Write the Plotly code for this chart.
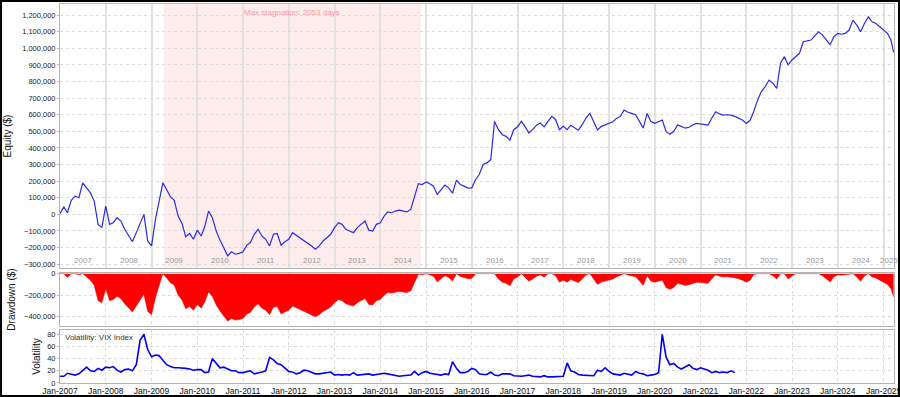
import pandas as pd
import numpy as np
import plotly.graph_objects as go
from plotly.subplots import make_subplots

# ---------------- data ----------------
# Equity in thousands of $, monthly from Jan-2007, last point = end of data (Mar-2025)
equity_k = [
    # 2007
    5, 45, 10, 85, 110, 100, 190, 160, 130, 80, -60, -80,
    # 2008
    50, -60, -50, -20, -40, -90, -130, -165, -110, -60, 0, -160,
    # 2009
    -190, -30, 80, 190, 150, 105, 85, -10, -55, -135, -115, -150,
    # 2010
    -95, -130, -75, 20, -20, -100, -155, -200, -250, -225, -240, -235,
    # 2011
    -225, -185, -170, -120, -90, -130, -150, -190, -120, -115, -185, -165,
    # 2012
    -150, -110, -125, -140, -160, -175, -190, -210, -190, -160, -140, -120,
    # 2013
    -80, -50, -60, -90, -100, -110, -80, -60, -40, -95, -100, -60,
    # 2014
    -50, -10, 15, 10, 20, 25, 20, 15, 30, 110, 185, 180,
    # 2015
    195, 185, 170, 120, 150, 176, 160, 128, 206, 180, 170, 158,
    # 2016
    160, 210, 240, 300, 310, 330, 560, 510, 480, 470, 447, 510,
    # 2017
    528, 560, 530, 490, 510, 537, 550, 527, 560, 590, 570, 510,
    # 2018
    530, 510, 537, 520, 507, 540, 580, 608, 560, 508, 530, 538,
    # 2019
    545, 558, 578, 590, 628, 615, 608, 600, 560, 519, 608, 560,
    # 2020
    548, 560, 568, 498, 483, 500, 538, 530, 519, 525, 540, 548,
    # 2021
    545, 540, 538, 580, 618, 605, 598, 600, 598, 590, 580, 568,
    # 2022
    548, 568, 620, 688, 740, 769, 809, 790, 759, 910, 950, 900,
    # 2023
    930, 950, 970, 1040, 1045, 1050, 1075, 1100, 1080, 1050, 1022, 1070,
    # 2024
    1090, 1085, 1090, 1110, 1170, 1140, 1100, 1150, 1190, 1160, 1150, 1130,
    # 2025
    1110, 1090, 1050, 975,
]
equity_dates = list(pd.date_range("2007-01-01", periods=len(equity_k) - 1, freq="MS")) + [pd.Timestamp("2025-03-22")]

# VIX index, monthly from Jan-2007 to Oct-2021
vix_values = [
    11, 11, 16, 14, 13, 15, 20, 26, 20, 19, 24, 21,   # 2007
    26, 25, 27, 21, 18, 22, 23, 20, 30, 70, 80, 55,   # 2008
    43, 46, 45, 37, 30, 27, 25, 25, 25, 24, 23, 21,   # 2009
    22, 22, 17, 18, 40, 32, 25, 26, 23, 20, 20, 17,   # 2010
    17, 18, 20, 15, 16, 18, 20, 42, 38, 32, 30, 24,   # 2011
    19, 18, 15, 17, 21, 20, 17, 15, 15, 16, 16, 18,   # 2012
    13, 14, 13, 14, 13, 17, 13, 14, 15, 15, 13, 14,   # 2013
    14, 16, 15, 14, 12, 11, 12, 13, 13, 19, 13, 17,   # 2014
    19, 16, 15, 14, 13, 15, 14, 35, 24, 17, 17, 19,   # 2015
    24, 22, 15, 14, 14, 18, 13, 12, 15, 15, 15, 12,   # 2016
    11, 11, 12, 13, 11, 10, 10, 12, 10, 10, 10, 10,   # 2017
    11, 33, 20, 18, 14, 13, 13, 12, 12, 21, 19, 25,   # 2018
    19, 15, 14, 13, 16, 15, 13, 19, 16, 15, 12, 13,   # 2019
    14, 17, 80, 42, 30, 32, 26, 23, 27, 30, 24, 22,   # 2020
    25, 23, 21, 17, 19, 17, 18, 17, 20, 17,           # 2021
]
vix_dates = pd.date_range("2007-01-01", periods=len(vix_values), freq="MS")

stagnation_start = "2009-04-08"
stagnation_end = "2014-11-21"
stagnation_days = 2053
year_labels = list(range(2007, 2026))

equity_ticks = list(range(-300000, 1200001, 100000))
drawdown_ticks = [0, -200000, -400000]
vol_ticks = [0, 20, 40, 60, 80]

# ---------------- derived ----------------
equity = np.array(equity_k, dtype=float) * 1000.0
drawdown = equity - np.maximum.accumulate(equity)

# ---------------- figure ----------------
FONT = "Liberation Sans, Arial, sans-serif"
fig = make_subplots(rows=3, cols=1, shared_xaxes=False)

fig.add_trace(go.Scatter(x=equity_dates, y=equity, mode="lines",
                         line=dict(color="#2b2bf0", width=1.2)), row=1, col=1)
fig.add_trace(go.Scatter(x=equity_dates, y=drawdown, mode="lines", fill="tozeroy",
                         fillcolor="#ff0000", line=dict(color="#ff0000", width=0.5)), row=2, col=1)
fig.add_trace(go.Scatter(x=vix_dates, y=vix_values, mode="lines",
                         line=dict(color="#0000ff", width=1.6)), row=3, col=1)

xrange = ["2007-01-01", "2025-03-25"]
common_x = dict(range=xrange, type="date", showline=True, linecolor="#b4b4b4", mirror=True,
                dtick="M12", tick0="2007-01-01", zeroline=False, automargin=False)

common_y = dict(showgrid=True, gridcolor="#dcdcdc", griddash="dot", zeroline=False,
                showline=True, linecolor="#b4b4b4", mirror=True, ticks="outside",
                ticklen=2, tickcolor="#b4b4b4", automargin=False)

fig.update_layout(
    width=900, height=397,
    margin=dict(l=60, r=6, t=4, b=14),
    paper_bgcolor="white", plot_bgcolor="white",
    showlegend=False,
    font=dict(family=FONT, size=7.5, color="#222"),
    xaxis=dict(domain=[0, 1], anchor="y", showticklabels=False, showgrid=True,
               gridcolor="#e2e2e2", gridwidth=1.5, ticks="", **common_x),
    xaxis2=dict(domain=[0, 1], anchor="y2", showticklabels=False, showgrid=True,
                gridcolor="#dcdcdc", griddash="dot", ticks="", matches="x", **common_x),
    xaxis3=dict(domain=[0, 1], anchor="y3", showticklabels=True, showgrid=True,
                gridcolor="#dcdcdc", griddash="dot", ticks="", matches="x",
                tickformat="%b-%Y", ticklabeloverflow="allow",
                tickfont=dict(size=8.5, color="#111"), **common_x),
    yaxis=dict(domain=[0.3034, 1.0], anchor="x", range=[-323000, 1267000],
               tickvals=equity_ticks, tickformat=",",
               title=dict(text="Equity ($)", font=dict(size=10, color="#111"), standoff=8),
               **common_y),
    yaxis2=dict(domain=[0.1504, 0.2902], anchor="x2", range=[-485000, 6000],
                tickvals=drawdown_ticks, tickformat=",",
                title=dict(text="Drawdown ($)", font=dict(size=10, color="#111"), standoff=6),
                **common_y),
    yaxis3=dict(domain=[0.0, 0.1398], anchor="x3", range=[0, 87],
                tickvals=vol_ticks,
                title=dict(text="Volatility", font=dict(size=10, color="#111"), standoff=4),
                **common_y),
)

# stagnation shading
fig.add_shape(type="rect", xref="x", yref="y domain", x0=stagnation_start, x1=stagnation_end,
              y0=0, y1=1, fillcolor="#ffecec", line=dict(width=0), layer="below")
mid = pd.Timestamp(stagnation_start) + (pd.Timestamp(stagnation_end) - pd.Timestamp(stagnation_start)) / 2
fig.add_annotation(x=mid, y=1, xref="x", yref="y domain", yanchor="top", yshift=-2,
                   text=f"Max stagnation: {stagnation_days} days", showarrow=False,
                   font=dict(size=8, color="#ff9a9a"))

# year labels inside top panel (last one sits at the clipped right edge)
for yr in year_labels:
    pos = pd.Timestamp(f"{yr}-07-02") if yr < 2025 else pd.Timestamp("2025-02-15")
    fig.add_annotation(x=pos, y=0, xref="x", yref="y domain",
                       yanchor="bottom", yshift=1, text=str(yr), showarrow=False,
                       font=dict(size=8, color="#9a9a9a"))

# volatility label
fig.add_annotation(x=0.004, y=1, xref="x3 domain", yref="y3 domain", xanchor="left",
                   yanchor="top", yshift=-1, text="Volatility: VIX index", showarrow=False,
                   font=dict(size=8, color="#333"))

# outer black frame
fig.add_shape(type="rect", xref="paper", yref="paper", x0=-0.0707, x1=1.0060,
              y0=-0.0343, y1=1.0079, line=dict(color="black", width=2), fillcolor="rgba(0,0,0,0)")

fig.write_html("out.html")
